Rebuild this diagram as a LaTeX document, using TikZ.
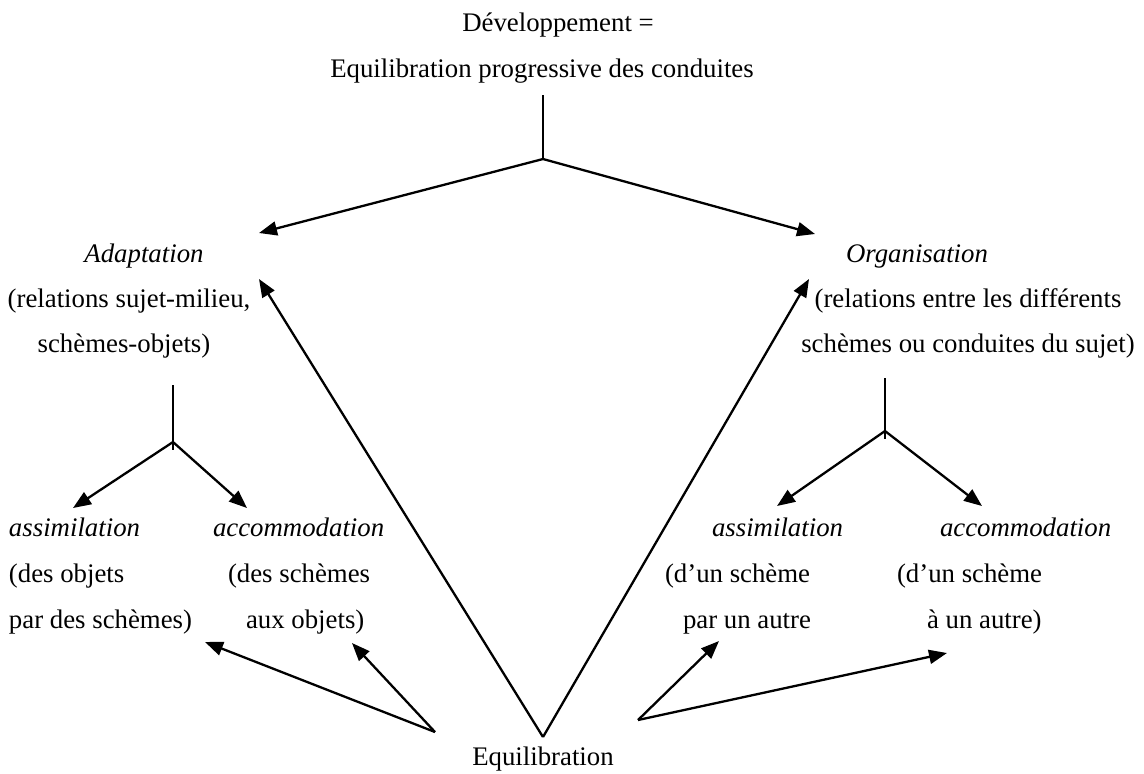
\documentclass[tikz,border=0pt]{standalone}
\usepackage{fontspec}
\setmainfont{Liberation Serif}
\usetikzlibrary{arrows.meta}
\begin{document}
\begin{tikzpicture}[x=0.5pt,y=-0.5pt,
  lbl/.style={inner sep=0pt, outer sep=0pt, font=\fontsize{13.4}{16}\selectfont},
  arr/.style={line width=1.15pt, -{Triangle[length=9pt,width=7pt]}},
  stem/.style={line width=0.9pt}]
\useasboundingbox (0,0) rectangle (1144,773);

% title
\node[lbl, anchor=base] (dev) at (558,31) {Développement =};
\node[lbl, anchor=base] (equiprog) at (542,77) {Equilibration progressive des conduites};

% adaptation branch
\node[lbl, anchor=base] (adapt) at (144,262) {\itshape Adaptation};
\node[lbl, anchor=base] (adaptA) at (129,307) {(relations sujet-milieu,};
\node[lbl, anchor=base] (adaptB) at (124,352) {schèmes-objets)};

% organisation branch
\node[lbl, anchor=base] (orga) at (917,262) {\itshape Organisation};
\node[lbl, anchor=base] (orgaA) at (968,307) {(relations entre les différents};
\node[lbl, anchor=base] (orgaB) at (968,352) {schèmes ou conduites du sujet)};

% left leaves
\node[lbl, anchor=base west] (assL) at (9,536) {\itshape assimilation};
\node[lbl, anchor=base west] (assLA) at (9,582) {(des objets};
\node[lbl, anchor=base west] (assLB) at (9,628) {par des schèmes)};
\node[lbl, anchor=base west] (accL) at (213,536) {\itshape accommodation};
\node[lbl, anchor=base west] (accLA) at (228,582) {(des schèmes};
\node[lbl, anchor=base west] (accLB) at (246,628) {aux objets)};

% right leaves
\node[lbl, anchor=base west] (assR) at (712,536) {\itshape assimilation};
\node[lbl, anchor=base west] (assRA) at (665,582) {(d’un schème};
\node[lbl, anchor=base west] (assRB) at (683,628) {par un autre};
\node[lbl, anchor=base west] (accR) at (940,536) {\itshape accommodation};
\node[lbl, anchor=base west] (accRA) at (897,582) {(d’un schème};
\node[lbl, anchor=base west] (accRB) at (927,628) {à un autre)};

% equilibration
\node[lbl, anchor=base] (equi) at (543,765) {Equilibration};

% junction and tip points
\coordinate (topS) at (543,95);
\coordinate (topJ) at (543,159);
\coordinate (adaptTip) at (259,233);
\coordinate (orgaTip) at (815,234);

\coordinate (lS) at (173,385);
\coordinate (lJ) at (173,442);
\coordinate (lE) at (173,450);
\coordinate (assLTip) at (73,508);
\coordinate (accLTip) at (247,508);

\coordinate (rS) at (885,378);
\coordinate (rJ) at (885,431);
\coordinate (rE) at (885,439);
\coordinate (assRTip) at (777,506);
\coordinate (accRTip) at (982,506);

\coordinate (vApex) at (543,737);
\coordinate (vL) at (259,279);
\coordinate (vR) at (809,279);

\coordinate (eqL) at (435,732);
\coordinate (eqLTip1) at (205,642);
\coordinate (eqLTip2) at (352,643);
\coordinate (eqR) at (638,720);
\coordinate (eqRTip1) at (719,641);
\coordinate (eqRTip2) at (947,653);

% top split
\draw[stem] (topS) -- (topJ);
\draw[arr] (topJ) -- (adaptTip);
\draw[arr] (topJ) -- (orgaTip);

% adaptation split
\draw[stem] (lS) -- (lE);
\draw[arr] (lJ) -- (assLTip);
\draw[arr] (lJ) -- (accLTip);

% organisation split
\draw[stem] (rS) -- (rE);
\draw[arr] (rJ) -- (assRTip);
\draw[arr] (rJ) -- (accRTip);

% equilibration arrows
\draw[arr] (vApex) -- (vL);
\draw[arr] (vApex) -- (vR);
\draw[arr] (eqL) -- (eqLTip1);
\draw[arr] (eqL) -- (eqLTip2);
\draw[arr] (eqR) -- (eqRTip1);
\draw[arr] (eqR) -- (eqRTip2);
\end{tikzpicture}
\end{document}
